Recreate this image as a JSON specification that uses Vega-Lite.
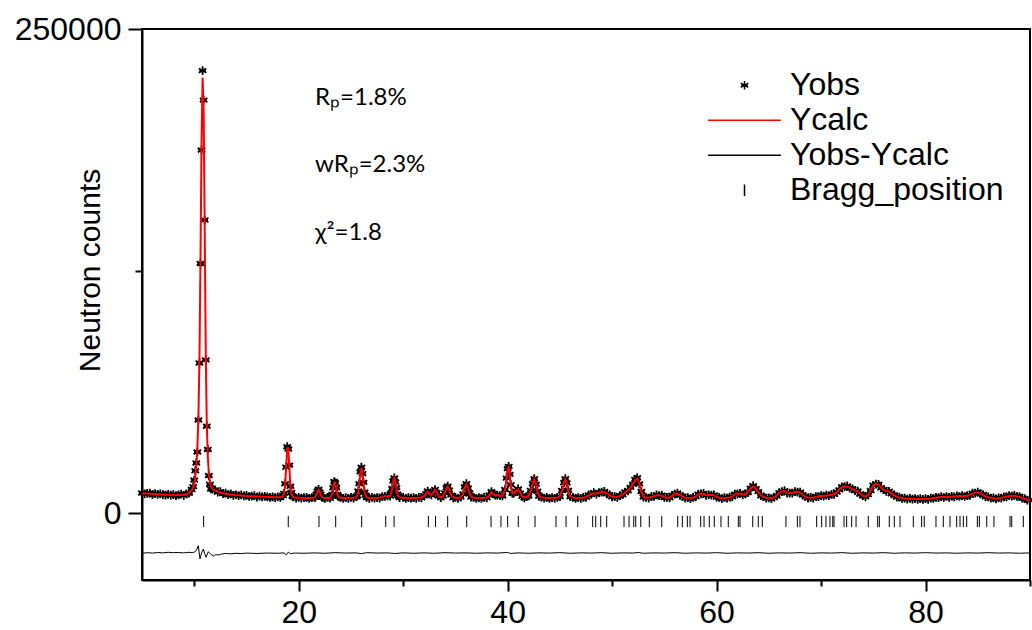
{
  "$schema": "https://vega.github.io/schema/vega-lite/v6.json",
  "width": 888,
  "height": 551,
  "autosize": {"type": "none"},
  "padding": {"left": 142, "top": 29, "right": 2, "bottom": 50},
  "background": "white",
  "datasets": {
    "prof": [
      {"x":5.0,"o":10500,"c":10300},{"x":5.25,"o":10050,"c":10250},{"x":5.5,"o":10300,"c":10200},{"x":5.75,"o":10500,"c":10100},
      {"x":6.0,"o":9700,"c":10000},{"x":6.25,"o":10150,"c":9950},{"x":6.5,"o":9800,"c":9900},{"x":6.75,"o":10100,"c":9800},
      {"x":7.0,"o":9700,"c":9700},{"x":7.25,"o":9450,"c":9650},{"x":7.5,"o":9850,"c":9600},{"x":7.75,"o":9350,"c":9500},
      {"x":8.0,"o":9700,"c":9400},{"x":8.25,"o":9200,"c":9400},{"x":8.5,"o":9550,"c":9450},{"x":8.75,"o":9900,"c":9500},
      {"x":9.0,"o":9300,"c":9600},{"x":9.25,"o":10100,"c":9900},{"x":9.5,"o":10400,"c":10500},{"x":9.75,"o":12300,"c":12000},
      {"x":9.9,"o":13800,"c":13500},{"x":10.0,"o":17200,"c":15000},{"x":10.1,"o":22000,"c":19000},{"x":10.2,"o":26000,"c":25000},
      {"x":10.3,"o":31700,"c":34000},{"x":10.4,"o":48200,"c":50000},{"x":10.5,"o":77600,"c":80000},{"x":10.6,"o":129000,"c":132000},
      {"x":10.7,"o":187500,"c":192000},{"x":10.8,"o":228500,"c":225000},{"x":10.9,"o":213300,"c":208000},{"x":11.0,"o":151400,"c":148000},
      {"x":11.1,"o":79200,"c":84000},{"x":11.2,"o":45000,"c":46000},{"x":11.3,"o":33000,"c":29000},{"x":11.4,"o":19500,"c":20500},
      {"x":11.5,"o":15000,"c":16000},{"x":11.6,"o":12600,"c":14000},{"x":11.75,"o":12500,"c":12800},{"x":12.0,"o":12100,"c":11800},
      {"x":12.25,"o":11000,"c":11200},{"x":12.5,"o":11200,"c":10800},{"x":12.75,"o":10200,"c":10400},{"x":13.0,"o":10400,"c":10100},
      {"x":13.25,"o":9700,"c":9900},{"x":13.5,"o":10100,"c":9700},{"x":13.75,"o":9300,"c":9600},{"x":14.0,"o":9600,"c":9400},
      {"x":14.25,"o":9200,"c":9300},{"x":14.5,"o":9500,"c":9200},{"x":14.75,"o":9000,"c":9100},{"x":15.0,"o":9300,"c":9000},
      {"x":15.25,"o":8700,"c":8900},{"x":15.5,"o":8950,"c":8850},{"x":15.75,"o":9200,"c":8800},{"x":16.0,"o":8400,"c":8700},
      {"x":16.25,"o":8850,"c":8650},{"x":16.5,"o":8500,"c":8600},{"x":16.75,"o":8800,"c":8500},{"x":17.0,"o":8450,"c":8450},
      {"x":17.25,"o":8200,"c":8400},{"x":17.5,"o":8550,"c":8300},{"x":17.75,"o":8100,"c":8250},{"x":18.0,"o":8550,"c":8250},
      {"x":18.25,"o":8200,"c":8400},{"x":18.5,"o":9200,"c":8950},{"x":18.6,"o":10300,"c":10430},{"x":18.7,"o":15300,"c":14480},
      {"x":18.8,"o":23800,"c":24200},{"x":18.9,"o":34400,"c":33650},{"x":19.0,"o":33200,"c":33650},{"x":19.1,"o":24900,"c":24200},
      {"x":19.2,"o":14000,"c":14480},{"x":19.3,"o":10800,"c":10430},{"x":19.4,"o":8800,"c":8950},{"x":19.5,"o":8500,"c":8300},
      {"x":19.75,"o":7850,"c":8050},{"x":20.0,"o":8300,"c":8000},{"x":20.25,"o":7800,"c":7950},{"x":20.5,"o":8100,"c":7950},
      {"x":20.75,"o":8250,"c":7900},{"x":21.0,"o":7700,"c":7900},{"x":21.25,"o":8100,"c":7900},{"x":21.5,"o":8300,"c":8110},
      {"x":21.6,"o":8400,"c":8610},{"x":21.7,"o":9900,"c":9700},{"x":21.8,"o":11500,"c":11260},{"x":21.9,"o":12400,"c":12100},
      {"x":22.0,"o":11100,"c":11260},{"x":22.1,"o":9900,"c":9700},{"x":22.2,"o":8500,"c":8610},{"x":22.3,"o":8300,"c":8110},
      {"x":22.5,"o":7700,"c":7900},{"x":22.75,"o":8200,"c":7900},{"x":23.0,"o":7800,"c":7950},{"x":23.1,"o":8900,"c":8660},
      {"x":23.2,"o":9700,"c":9920},{"x":23.3,"o":13200,"c":12940},{"x":23.4,"o":16400,"c":15880},{"x":23.5,"o":15700,"c":15880},
      {"x":23.6,"o":13200,"c":12940},{"x":23.7,"o":9800,"c":9920},{"x":23.8,"o":8800,"c":8660},{"x":24.0,"o":8200,"c":8000},
      {"x":24.25,"o":7700,"c":7900},{"x":24.5,"o":8100,"c":7900},{"x":24.75,"o":7750,"c":7900},{"x":25.0,"o":8200,"c":7900},
      {"x":25.25,"o":7800,"c":7950},{"x":25.5,"o":8600,"c":8370},{"x":25.6,"o":9000,"c":9140},{"x":25.7,"o":11500,"c":11155},
      {"x":25.8,"o":15300,"c":15650},{"x":25.9,"o":21400,"c":20920},{"x":26.0,"o":23800,"c":23400},{"x":26.1,"o":20500,"c":20920},
      {"x":26.2,"o":16000,"c":15650},{"x":26.3,"o":11000,"c":11155},{"x":26.4,"o":9400,"c":9140},{"x":26.5,"o":8200,"c":8370},
      {"x":26.75,"o":7750,"c":7950},{"x":27.0,"o":8200,"c":7900},{"x":27.25,"o":7800,"c":7900},{"x":27.5,"o":8150,"c":7950},
      {"x":27.75,"o":7900,"c":8100},{"x":28.0,"o":8700,"c":8500},{"x":28.25,"o":8800,"c":9000},{"x":28.5,"o":9000,"c":8700},
      {"x":28.75,"o":8900,"c":9100},{"x":28.85,"o":10400,"c":10120},{"x":28.95,"o":12800,"c":13050},{"x":29.05,"o":16800,"c":16480},
      {"x":29.15,"o":18300,"c":18100},{"x":29.25,"o":16200,"c":16480},{"x":29.35,"o":13300,"c":13050},{"x":29.45,"o":9900,"c":10120},
      {"x":29.55,"o":9000,"c":8810},{"x":29.65,"o":8100,"c":8300},{"x":30.0,"o":8200,"c":7950},{"x":30.25,"o":7700,"c":7900},
      {"x":30.5,"o":8100,"c":7900},{"x":30.75,"o":7800,"c":7900},{"x":31.0,"o":8150,"c":7900},{"x":31.25,"o":7750,"c":7950},
      {"x":31.5,"o":8250,"c":8000},{"x":31.75,"o":8000,"c":8200},{"x":32.0,"o":9100,"c":8900},{"x":32.2,"o":10100,"c":10300},
      {"x":32.35,"o":11500,"c":11200},{"x":32.5,"o":10000,"c":10200},{"x":32.7,"o":9500,"c":9300},{"x":32.9,"o":10700,"c":10900},
      {"x":33.05,"o":12300,"c":12100},{"x":33.2,"o":10800,"c":11000},{"x":33.4,"o":9000,"c":8800},{"x":33.6,"o":8100,"c":8300},
      {"x":33.8,"o":9000,"c":8800},{"x":34.0,"o":10500,"c":10700},{"x":34.15,"o":13200,"c":13000},{"x":34.26,"o":14000,"c":13800},
      {"x":34.4,"o":12000,"c":12300},{"x":34.6,"o":9400,"c":9200},{"x":34.8,"o":8000,"c":8200},{"x":35.0,"o":8300,"c":8000},
      {"x":35.25,"o":7750,"c":7950},{"x":35.5,"o":8400,"c":8200},{"x":35.75,"o":10000,"c":10200},{"x":35.9,"o":13700,"c":13500},
      {"x":36.05,"o":15300,"c":15000},{"x":36.2,"o":13000,"c":13200},{"x":36.35,"o":10500,"c":10300},{"x":36.5,"o":8400,"c":8600},
      {"x":36.75,"o":8250,"c":8000},{"x":37.0,"o":7700,"c":7900},{"x":37.25,"o":8150,"c":7900},{"x":37.5,"o":7700,"c":7900},
      {"x":37.75,"o":8200,"c":7950},{"x":38.0,"o":8000,"c":8200},{"x":38.25,"o":9500,"c":9300},{"x":38.45,"o":11200,"c":11000},
      {"x":38.6,"o":10000,"c":10200},{"x":38.8,"o":9400,"c":9200},{"x":39.0,"o":9400,"c":9600},{"x":39.25,"o":9200,"c":9000},
      {"x":39.5,"o":9000,"c":9200},{"x":39.75,"o":12300,"c":12000},{"x":39.9,"o":18200,"c":18500},{"x":40.0,"o":23100,"c":22800},
      {"x":40.1,"o":24200,"c":23800},{"x":40.2,"o":20100,"c":20500},{"x":40.3,"o":14800,"c":14500},{"x":40.45,"o":10300,"c":10500},
      {"x":40.6,"o":10400,"c":10200},{"x":40.8,"o":11400,"c":11600},{"x":41.0,"o":12600,"c":12400},{"x":41.2,"o":10400,"c":10600},
      {"x":41.4,"o":8800,"c":8600},{"x":41.6,"o":8000,"c":8200},{"x":41.8,"o":8600,"c":8400},{"x":42.0,"o":9000,"c":9200},
      {"x":42.2,"o":11800,"c":11500},{"x":42.4,"o":15300,"c":15500},{"x":42.55,"o":17900,"c":17600},{"x":42.7,"o":15000,"c":15300},
      {"x":42.85,"o":11400,"c":11200},{"x":43.0,"o":8800,"c":9000},{"x":43.25,"o":8400,"c":8200},{"x":43.5,"o":7800,"c":8000},
      {"x":43.75,"o":8200,"c":7950},{"x":44.0,"o":7700,"c":7900},{"x":44.25,"o":8100,"c":7900},{"x":44.5,"o":7750,"c":7900},
      {"x":44.75,"o":8200,"c":8000},{"x":45.0,"o":8600,"c":8800},{"x":45.2,"o":11800,"c":11500},{"x":45.4,"o":15800,"c":16000},
      {"x":45.52,"o":17900,"c":17600},{"x":45.65,"o":15700,"c":16000},{"x":45.8,"o":11900,"c":11600},{"x":46.0,"o":8600,"c":8800},
      {"x":46.25,"o":8300,"c":8100},{"x":46.5,"o":7700,"c":7900},{"x":46.75,"o":8100,"c":7900},{"x":47.0,"o":7750,"c":7950},
      {"x":47.25,"o":8300,"c":8100},{"x":47.5,"o":8300,"c":8500},{"x":47.75,"o":9500,"c":9300},{"x":48.0,"o":9800,"c":10000},
      {"x":48.25,"o":10700,"c":10400},{"x":48.5,"o":9900,"c":10100},{"x":48.75,"o":10700,"c":10500},{"x":49.0,"o":11000,"c":11200},
      {"x":49.25,"o":11300,"c":11000},{"x":49.5,"o":10100,"c":10300},{"x":49.75,"o":9600,"c":9400},{"x":50.0,"o":8500,"c":8700},
      {"x":50.25,"o":8600,"c":8400},{"x":50.5,"o":8300,"c":8500},{"x":50.75,"o":9200,"c":9000},{"x":51.0,"o":9600,"c":9800},
      {"x":51.25,"o":11000,"c":10800},{"x":51.5,"o":11600,"c":11800},{"x":51.75,"o":13400,"c":13200},{"x":52.0,"o":15000,"c":15200},
      {"x":52.2,"o":17500,"c":17200},{"x":52.4,"o":18400,"c":18100},{"x":52.6,"o":15200,"c":15500},{"x":52.8,"o":11300,"c":11000},
      {"x":53.0,"o":8400,"c":8600},{"x":53.25,"o":8300,"c":8100},{"x":53.5,"o":7900,"c":8100},{"x":53.75,"o":8600,"c":8400},
      {"x":54.0,"o":8700,"c":8900},{"x":54.25,"o":9500,"c":9300},{"x":54.5,"o":9200,"c":9400},{"x":54.75,"o":9300,"c":9100},
      {"x":55.0,"o":8200,"c":8400},{"x":55.25,"o":8200,"c":8000},{"x":55.5,"o":8000,"c":8200},{"x":55.75,"o":9300,"c":9100},
      {"x":56.0,"o":9900,"c":10100},{"x":56.25,"o":10500,"c":10300},{"x":56.5,"o":9300,"c":9500},{"x":56.75,"o":8800,"c":8600},
      {"x":57.0,"o":7900,"c":8100},{"x":57.25,"o":8100,"c":7900},{"x":57.5,"o":7650,"c":7850},{"x":57.75,"o":8200,"c":8000},
      {"x":58.0,"o":8500,"c":8700},{"x":58.25,"o":9900,"c":9700},{"x":58.5,"o":10100,"c":10300},{"x":58.75,"o":10300,"c":10100},
      {"x":59.0,"o":9300,"c":9500},{"x":59.25,"o":9600,"c":9400},{"x":59.5,"o":9400,"c":9600},{"x":59.75,"o":9500,"c":9300},
      {"x":60.0,"o":8400,"c":8600},{"x":60.25,"o":8200,"c":8000},{"x":60.5,"o":7650,"c":7850},{"x":60.75,"o":8100,"c":7900},
      {"x":61.0,"o":7800,"c":8000},{"x":61.25,"o":8400,"c":8200},{"x":61.5,"o":8500,"c":8700},{"x":61.75,"o":9900,"c":9700},
      {"x":62.0,"o":10100,"c":10300},{"x":62.25,"o":10300,"c":10100},{"x":62.5,"o":9500,"c":9700},{"x":62.75,"o":10000,"c":9800},
      {"x":63.0,"o":10800,"c":11000},{"x":63.25,"o":13000,"c":12800},{"x":63.5,"o":14300,"c":14000},{"x":63.75,"o":12800,"c":13000},
      {"x":64.0,"o":11200,"c":11000},{"x":64.25,"o":9100,"c":9300},{"x":64.5,"o":8700,"c":8500},{"x":64.75,"o":7800,"c":8000},
      {"x":65.0,"o":8000,"c":7800},{"x":65.25,"o":7650,"c":7850},{"x":65.5,"o":8400,"c":8200},{"x":65.75,"o":9000,"c":9200},
      {"x":66.0,"o":10700,"c":10500},{"x":66.25,"o":11200,"c":11400},{"x":66.5,"o":11700,"c":11500},{"x":66.75,"o":10500,"c":10700},
      {"x":67.0,"o":10500,"c":10300},{"x":67.25,"o":10400,"c":10600},{"x":67.5,"o":11200,"c":11000},{"x":67.75,"o":11000,"c":11200},
      {"x":68.0,"o":10900,"c":10700},{"x":68.25,"o":9400,"c":9600},{"x":68.5,"o":8800,"c":8600},{"x":68.75,"o":7900,"c":8100},
      {"x":69.0,"o":8200,"c":8000},{"x":69.25,"o":7900,"c":8100},{"x":69.5,"o":8700,"c":8500},{"x":69.75,"o":8600,"c":8800},
      {"x":70.0,"o":9200,"c":9000},{"x":70.25,"o":8900,"c":9100},{"x":70.5,"o":9400,"c":9200},{"x":70.75,"o":9200,"c":9400},
      {"x":71.0,"o":9800,"c":9600},{"x":71.25,"o":9800,"c":10000},{"x":71.5,"o":11000,"c":10800},{"x":71.75,"o":12100,"c":12300},
      {"x":72.0,"o":13700,"c":13500},{"x":72.25,"o":13800,"c":14000},{"x":72.5,"o":14200,"c":13900},{"x":72.75,"o":13000,"c":13200},
      {"x":73.0,"o":12700,"c":12500},{"x":73.25,"o":11700,"c":11900},{"x":73.5,"o":11500,"c":11300},{"x":73.75,"o":9900,"c":10100},
      {"x":74.0,"o":9200,"c":9000},{"x":74.25,"o":8500,"c":8700},{"x":74.5,"o":9700,"c":9500},{"x":74.75,"o":11800,"c":12000},
      {"x":75.0,"o":14500,"c":14300},{"x":75.25,"o":15100,"c":15300},{"x":75.5,"o":15000,"c":14800},{"x":75.75,"o":13100,"c":13300},
      {"x":76.0,"o":12300,"c":12100},{"x":76.25,"o":11400,"c":11600},{"x":76.5,"o":11400,"c":11200},{"x":76.75,"o":10100,"c":10300},
      {"x":77.0,"o":9500,"c":9300},{"x":77.25,"o":8400,"c":8600},{"x":77.5,"o":8400,"c":8200},{"x":77.75,"o":7700,"c":7900},
      {"x":78.0,"o":7900,"c":7700},{"x":78.25,"o":7400,"c":7600},{"x":78.5,"o":7700,"c":7500},{"x":78.75,"o":7300,"c":7500},
      {"x":79.0,"o":7650,"c":7450},{"x":79.25,"o":7200,"c":7400},{"x":79.5,"o":7600,"c":7400},{"x":79.75,"o":7200,"c":7400},
      {"x":80.0,"o":7600,"c":7400},{"x":80.25,"o":7250,"c":7450},{"x":80.5,"o":7800,"c":7600},{"x":80.75,"o":7700,"c":7900},
      {"x":81.0,"o":8300,"c":8100},{"x":81.25,"o":8100,"c":8300},{"x":81.5,"o":8600,"c":8400},{"x":81.75,"o":8300,"c":8500},
      {"x":82.0,"o":8700,"c":8500},{"x":82.25,"o":8300,"c":8500},{"x":82.5,"o":8800,"c":8600},{"x":82.75,"o":8500,"c":8700},
      {"x":83.0,"o":9000,"c":8800},{"x":83.25,"o":8700,"c":8900},{"x":83.5,"o":9200,"c":9000},{"x":83.75,"o":8700,"c":8900},
      {"x":84.0,"o":9200,"c":9000},{"x":84.25,"o":9300,"c":9500},{"x":84.5,"o":10400,"c":10200},{"x":84.75,"o":10500,"c":10700},
      {"x":85.0,"o":11000,"c":10800},{"x":85.25,"o":10100,"c":10300},{"x":85.5,"o":9700,"c":9500},{"x":85.75,"o":8600,"c":8800},
      {"x":86.0,"o":8500,"c":8300},{"x":86.25,"o":7800,"c":8000},{"x":86.5,"o":8000,"c":7800},{"x":86.75,"o":7500,"c":7700},
      {"x":87.0,"o":8000,"c":7800},{"x":87.25,"o":7800,"c":8000},{"x":87.5,"o":8500,"c":8300},{"x":87.75,"o":8500,"c":8700},
      {"x":88.0,"o":9200,"c":9000},{"x":88.25,"o":8900,"c":9100},{"x":88.5,"o":9300,"c":9100},{"x":88.75,"o":8700,"c":8900},
      {"x":89.0,"o":8700,"c":8500},{"x":89.25,"o":7800,"c":8000},{"x":89.5,"o":7600,"c":7400},{"x":89.75,"o":6800,"c":7000},
      {"x":90.0,"o":6800,"c":6600}
    ],
    "diff": [
      {"x":5.0,"d":-20700},{"x":5.5,"d":-20300},{"x":6.0,"d":-20500},{"x":6.5,"d":-20200},{"x":7.0,"d":-20400},{"x":7.5,"d":-20100},
      {"x":8.0,"d":-20300},{"x":8.5,"d":-20200},{"x":9.0,"d":-20400},{"x":9.5,"d":-20100},{"x":9.8,"d":-20300},{"x":10.0,"d":-20000},
      {"x":10.2,"d":-19200},{"x":10.39,"d":-16700},{"x":10.55,"d":-23500},{"x":10.7,"d":-20500},{"x":10.87,"d":-18400},{"x":11.0,"d":-20800},
      {"x":11.13,"d":-22700},{"x":11.25,"d":-21000},{"x":11.35,"d":-19800},{"x":11.6,"d":-21200},{"x":11.83,"d":-22000},{"x":12.05,"d":-21300},
      {"x":12.3,"d":-21500},{"x":12.6,"d":-21000},{"x":13.0,"d":-20700},{"x":13.5,"d":-20900},{"x":14.0,"d":-20600},{"x":14.5,"d":-20800},
      {"x":15.0,"d":-20500},{"x":16.0,"d":-20700},{"x":17.0,"d":-20500},{"x":18.0,"d":-20600},{"x":18.6,"d":-20400},{"x":18.8,"d":-21400},
      {"x":19.0,"d":-20000},{"x":19.2,"d":-20800},{"x":19.6,"d":-20500},{"x":20.5,"d":-20600},{"x":21.5,"d":-20400},{"x":22.5,"d":-20600},
      {"x":23.5,"d":-20300},{"x":24.5,"d":-20500},{"x":25.5,"d":-20400},{"x":26.0,"d":-20800},{"x":26.5,"d":-20300},{"x":27.5,"d":-20500},
      {"x":28.5,"d":-20400},{"x":29.2,"d":-20700},{"x":30,"d":-20400},{"x":31,"d":-20600},{"x":32,"d":-20400},{"x":33,"d":-20600},
      {"x":34,"d":-20300},{"x":35,"d":-20500},{"x":36,"d":-20400},{"x":37,"d":-20600},{"x":38,"d":-20400},{"x":39,"d":-20500},
      {"x":40,"d":-20200},{"x":40.3,"d":-20700},{"x":41,"d":-20400},{"x":42,"d":-20600},{"x":43,"d":-20400},{"x":44,"d":-20500},
      {"x":45,"d":-20300},{"x":46,"d":-20600},{"x":47,"d":-20400},{"x":48,"d":-20500},{"x":49,"d":-20300},{"x":50,"d":-20600},
      {"x":51,"d":-20400},{"x":52,"d":-20500},{"x":52.5,"d":-20200},{"x":53,"d":-20600},{"x":54,"d":-20400},{"x":55,"d":-20500},
      {"x":56,"d":-20300},{"x":57,"d":-20600},{"x":58,"d":-20400},{"x":59,"d":-20500},{"x":60,"d":-20300},{"x":61,"d":-20600},
      {"x":62,"d":-20400},{"x":63,"d":-20500},{"x":64,"d":-20300},{"x":65,"d":-20600},{"x":66,"d":-20400},{"x":67,"d":-20500},
      {"x":68,"d":-20300},{"x":69,"d":-20600},{"x":70,"d":-20400},{"x":71,"d":-20500},{"x":72,"d":-20300},{"x":73,"d":-20600},
      {"x":74,"d":-20400},{"x":75,"d":-20500},{"x":76,"d":-20300},{"x":77,"d":-20600},{"x":78,"d":-20400},{"x":79,"d":-20500},
      {"x":80,"d":-20300},{"x":81,"d":-20500},{"x":82,"d":-20400},{"x":83,"d":-20600},{"x":84,"d":-20400},{"x":85,"d":-20500},
      {"x":86,"d":-20300},{"x":87,"d":-20500},{"x":88,"d":-20400},{"x":89,"d":-20600},{"x":90,"d":-20400}
    ],
    "bragg": [
      {"x":10.9},{"x":19.0},{"x":21.94},{"x":23.54},{"x":26.03},{"x":28.33},{"x":29.13},{"x":32.41},{"x":33.1},{"x":34.26},
      {"x":36.08},{"x":38.41},{"x":39.36},{"x":40.0},{"x":41.02},{"x":42.62},{"x":44.63},{"x":45.59},{"x":46.71},{"x":48.14},
      {"x":48.43},{"x":48.91},{"x":49.48},{"x":51.14},{"x":51.62},{"x":52.07},{"x":52.26},{"x":52.74},{"x":53.56},{"x":54.75},
      {"x":56.28},{"x":56.72},{"x":57.2},{"x":57.46},{"x":58.48},{"x":58.8},{"x":59.3},{"x":59.78},{"x":60.42},{"x":61.12},
      {"x":62.08},{"x":62.24},{"x":63.46},{"x":63.99},{"x":64.38},{"x":66.64},{"x":67.73},{"x":67.98},{"x":69.58},{"x":70.06},
      {"x":70.47},{"x":70.85},{"x":71.12},{"x":71.24},{"x":72.2},{"x":72.45},{"x":72.93},{"x":73.35},{"x":74.52},{"x":75.42},
      {"x":75.58},{"x":76.53},{"x":77.01},{"x":77.56},{"x":78.83},{"x":79.63},{"x":79.88},{"x":81.0},{"x":81.7},{"x":82.34},
      {"x":82.98},{"x":83.3},{"x":83.62},{"x":83.94},{"x":84.96},{"x":85.15},{"x":85.86},{"x":86.55},{"x":88.09},{"x":88.25},
      {"x":89.36}
    ],
    "stats": [
      {"x":21.56,"y":214400,"t":"Rₚ=1.8%"},
      {"x":21.56,"y":179800,"t":"wRₚ=2.3%"},
      {"x":21.56,"y":144800,"t":"χ²=1.8"}
    ]
  },
  "layer": [
    {
      "data": {"name": "prof"},
      "mark": {"type": "point", "filled": false, "size": 5300, "strokeWidth": 1.8, "opacity": 1},
      "encoding": {
        "x": {"field": "x", "type": "quantitative", "scale": {"domain": [5, 90], "nice": false, "zero": false},
          "axis": {"values": [10,20,30,40,50,60,70,80,90], "labelExpr": "datum.value % 20 === 0 ? datum.label : ''",
            "tickSize": {"condition": {"test": "datum.value % 20 === 0", "value": 11}, "value": 6},
            "labelPadding": 6, "title": null, "labelFlush": false}},
        "y": {"field": "o", "type": "quantitative", "scale": {"domain": [-34400, 250000], "nice": false, "zero": false},
          "axis": {"values": [0,125000,250000], "format": "d", "labelExpr": "datum.value === 125000 ? '' : datum.label",
            "tickSize": {"condition": {"test": "datum.value === 125000", "value": 7}, "value": 14},
            "labelPadding": 7, "title": "Neutron counts", "titleX": -52, "titleY": 241, "titleFontSize": 30,
            "titleBaseline": "middle", "titleFontWeight": "normal", "titleFont": "Liberation Sans", "labelFlush": false}},
        "color": {"datum": "Yobs", "type": "nominal",
          "scale": {"domain": ["Yobs","Ycalc","Yobs-Ycalc","Bragg_position"], "range": ["black","red","black","black"]},
          "legend": {"orient": "none", "legendX": 565, "legendY": 39, "title": null}},
        "shape": {"datum": "Yobs", "type": "nominal",
          "scale": {"domain": ["Yobs","Ycalc","Yobs-Ycalc","Bragg_position"],
            "range": ["M0,-0.12L0,0.12M-0.104,-0.06L0.104,0.06M-0.104,0.06L0.104,-0.06M-0.09,0L0.09,0", "M-1,0L1,0", "M-1,0L1,0", "M0,-0.155L0,0.155"]},
          "legend": {"orient": "none", "legendX": 565, "legendY": 39, "title": null}}
      }
    },
    {
      "data": {"name": "prof"},
      "mark": {"type": "line", "strokeWidth": 2},
      "encoding": {
        "x": {"field": "x", "type": "quantitative"},
        "y": {"field": "c", "type": "quantitative"},
        "color": {"datum": "Ycalc", "type": "nominal"}
      }
    },
    {
      "data": {"name": "diff"},
      "mark": {"type": "line", "strokeWidth": 1},
      "encoding": {
        "x": {"field": "x", "type": "quantitative"},
        "y": {"field": "d", "type": "quantitative"},
        "color": {"datum": "Yobs-Ycalc", "type": "nominal"}
      }
    },
    {
      "data": {"name": "bragg"},
      "mark": {"type": "point", "filled": false, "size": 5300, "strokeWidth": 1, "opacity": 1},
      "encoding": {
        "x": {"field": "x", "type": "quantitative"},
        "y": {"datum": -4200, "type": "quantitative"},
        "color": {"datum": "Bragg_position", "type": "nominal"},
        "shape": {"datum": "Bragg_position", "type": "nominal"}
      }
    },
    {
      "data": {"name": "stats"},
      "mark": {"type": "text", "align": "left", "baseline": "middle", "font": "Lato", "fontSize": 24, "color": "black"},
      "encoding": {
        "x": {"field": "x", "type": "quantitative"},
        "y": {"field": "y", "type": "quantitative"},
        "text": {"field": "t"}
      }
    }
  ],
  "config": {
    "font": "Liberation Sans",
    "view": {"stroke": "black", "strokeWidth": 2},
    "axis": {"domainColor": "black", "domainWidth": 2, "tickColor": "black", "tickWidth": 2, "labelColor": "black",
      "labelFont": "Liberation Sans", "labelFontSize": 32, "grid": false, "titleColor": "black"},
    "legend": {"symbolSize": 5300, "clipHeight": 34.5, "rowPadding": 0, "labelFontSize": 32, "labelFont": "Liberation Sans",
      "labelOffset": 8, "symbolStrokeWidth": 1.5, "labelColor": "black", "padding": 0, "symbolFillColor": "transparent", "labelLimit": 400}
  }
}
